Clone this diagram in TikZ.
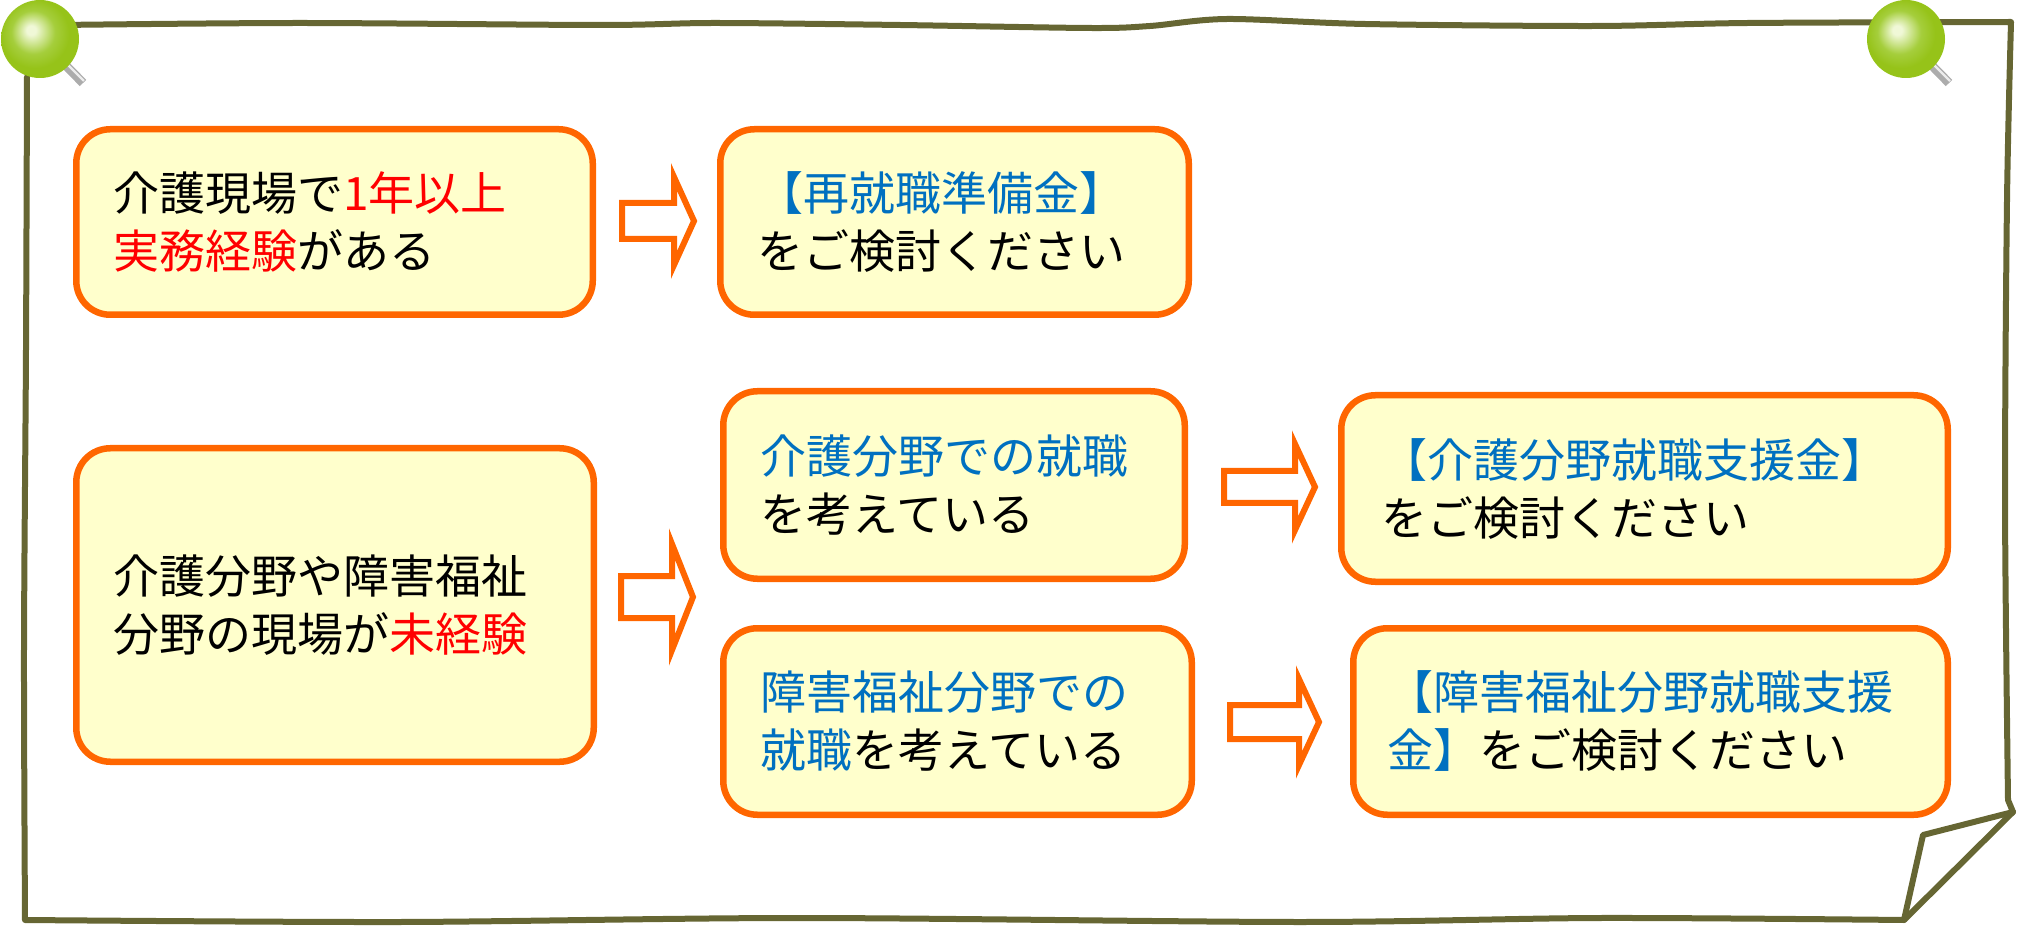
\documentclass[tikz,border=0pt]{standalone}
\usepackage{fontspec}
\setmainfont{Noto Sans CJK JP}
\usetikzlibrary{calc}
\definecolor{frameolive}{RGB}{102,102,51}
\definecolor{boxorange}{RGB}{255,102,0}
\definecolor{boxfill}{RGB}{255,255,204}
\definecolor{txtblue}{RGB}{0,112,192}
\definecolor{txtred}{RGB}{255,0,0}
\definecolor{pinlight}{RGB}{240,248,215}
\definecolor{pinmid}{RGB}{165,206,60}
\definecolor{pinedge}{RGB}{150,195,25}
\pgfdeclareradialshading{pinball}{\pgfpoint{-6bp}{6bp}}{color(0bp)=(pinlight); color(3bp)=(pinlight); color(14bp)=(pinmid); color(22bp)=(pinedge); color(25bp)=(pinedge); color(50bp)=(pinedge)}
\tikzset{
    %Define style for the hand drawn frame
    framepen/.style={
           draw=frameolive,
           line width=3pt,
           line join=round,
           line cap=round},
    %Define style for boxes
    panel/.style={
           rectangle,
           rounded corners=17pt,
           draw=boxorange, line width=3.25pt,
           fill=boxfill,
           align=left,
           inner xsep=18.5pt,
           inner ysep=0pt,
           font=\fontsize{23pt}{29pt}\selectfont},
    % Define hollow block arrow
    pics/fatarrow/.style n args={4}{code={
           \draw[draw=boxorange, line width=3pt, fill=white, line join=miter]
             (0,-#2) -- (#3,-#2) -- (#3,-#4) -- (#1,0) -- (#3,#4) -- (#3,#2) -- (0,#2) -- cycle;
           }}
}
\begin{document}
\begin{tikzpicture}[x=0.5pt,y=-0.5pt]
\useasboundingbox (0,0) rectangle (2019,930);

 %frame
\draw[framepen] plot[smooth, tension=0.5] coordinates {(27,77) (26,350) (24,650) (25,920)}
    -- plot[smooth, tension=0.5] coordinates {(25,920) (400,922) (800,918) (1300,922) (1600,918) (1904,920)}
    -- (1923,835) -- (2013,812)
    -- plot[smooth, tension=0.5] coordinates {(2008,800) (2005,500) (2007,200) (2011,22)}
    -- plot[smooth, tension=0.5] coordinates {(2011,22) (1748,23) (1595,26) (1365,24) (1227,19) (1150,26) (1090,28) (900,25) (715,23) (600,25) (300,23) (60,25)};
\draw[framepen] (2013,812) -- (1904,920);

 %pins
\foreach \px in {40,1906}{
  \draw[line width=4.5pt, gray!65] (\px,39) -- ++(43,44);
  \draw[line width=1.2pt, gray!15] (\px,37) -- ++(44,44);
  \shade[shading=pinball] (\px,39) circle[radius=19.5pt];
}

 %nodes
\node[panel, text width=221.25pt, minimum height=92.75pt] (exp) at (334.5,222)
    {介護現場で\textcolor{txtred}{1年以上}\\\textcolor{txtred}{実務経験}がある};
\node[panel, text width=197.25pt, minimum height=92.75pt] (rejob) at (954.5,222)
    {\textcolor{txtblue}{【再就職準備金】}\\をご検討ください};
\node[panel, text width=221.75pt, minimum height=156.75pt] (noexp) at (335,605)
    {介護分野や障害福祉\\分野の現場が\textcolor{txtred}{未経験}};
\node[panel, text width=193.75pt, minimum height=93.75pt] (care) at (954,485)
    {\textcolor{txtblue}{介護分野での就職}\\を考えている};
\node[panel, text width=197.25pt, minimum height=93.25pt] (welfare) at (957.5,721.5)
    {\textcolor{txtblue}{障害福祉分野での}\\\textcolor{txtblue}{就職}を考えている};
\node[panel, inner xsep=20pt, text width=263.25pt, minimum height=93.25pt] (caregrant) at (1644.5,488.5)
    {\textcolor{txtblue}{【介護分野就職支援金】}\\をご検討ください};
\node[panel, inner xsep=17pt, text width=263.25pt, minimum height=93.25pt] (welfgrant) at (1650.5,721.5)
    {\textcolor{txtblue}{【障害福祉分野就職支援}\\\textcolor{txtblue}{金】}をご検討ください};

 %arrows
\pic at ($(exp.east)+(26,-1)$) {fatarrow={72}{18}{52}{44}};
\pic at ($(noexp.east)+(24,-8)$) {fatarrow={72}{21}{51}{53}};
\pic at ($(care.east)+(36,2)$) {fatarrow={91}{16}{71}{43}};
\pic at ($(welfare.east)+(35,0.5)$) {fatarrow={89}{17}{69}{43}};

\end{tikzpicture}
\end{document}
